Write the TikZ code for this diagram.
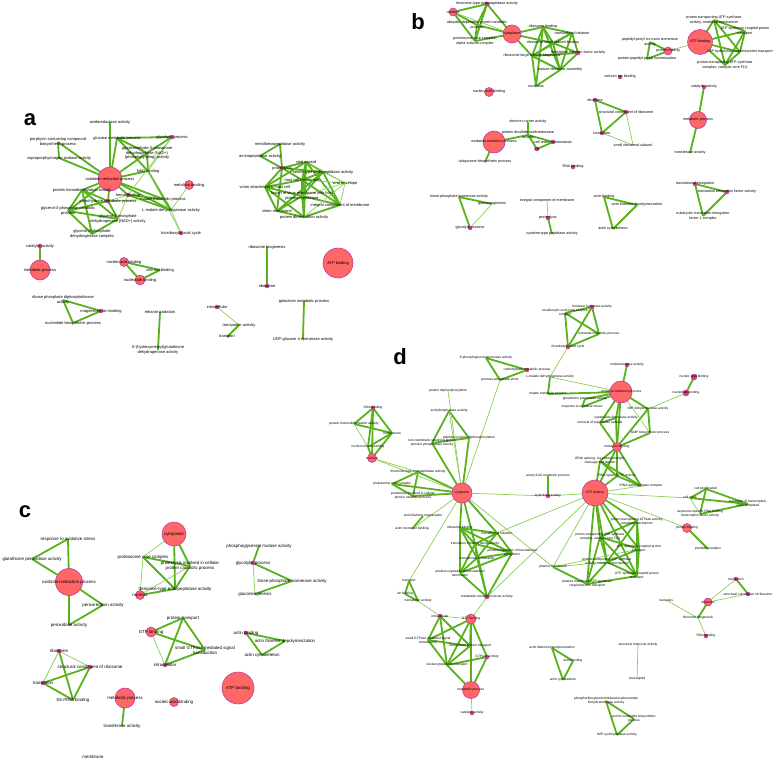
\documentclass[tikz,border=0pt]{standalone}
\usepackage{fontspec}
\setmainfont{Liberation Sans}
\usetikzlibrary{backgrounds}
\definecolor{eg}{RGB}{88,178,28}
\definecolor{egl}{RGB}{135,208,85}
\definecolor{nf}{RGB}{255,102,102}
\definecolor{nb}{RGB}{190,60,170}
\definecolor{sf}{RGB}{215,55,120}
\newcommand\NCirc[4]{\node[cn, minimum size=#3] (#1) at (#2) {}; \node[lbl] (#1t) at (#1) {#4};}
\newcommand\NDot[4][4]{\node[dn, minimum size=#1] (#2) at (#3) {}; \node[lbl] (#2t) at (#2) {#4};}
\newcommand\NTxt[3]{\node[lbl] (#1) at (#2) {#3};}
\newcommand\EThick[1]{\foreach \ea/\eb in {#1} \draw[eth] (\ea.center) -- (\eb.center);}
\newcommand\EThin[1]{\foreach \ea/\eb in {#1} \draw[etn] (\ea.center) -- (\eb.center);}
\begin{document}
\begin{tikzpicture}[x=1pt,y=-1pt,
 lbl/.style={inner sep=0pt, outer sep=0pt, align=center, text=black, font=\fontsize{4}{4.6}\selectfont},
 cn/.style={circle, fill=nf, draw=nb, line width=0.6pt, inner sep=0pt},
 dn/.style={circle, fill=sf, draw=nb, line width=0.4pt, inner sep=0pt},
 eth/.style={draw=eg, line width=1.8pt},
 etn/.style={draw=egl, line width=0.7pt},
 plabel/.style={font=\fontsize{22}{22}\selectfont\bfseries, inner sep=0pt}]
\path[use as bounding box] (0,0) rectangle (778,760);

\node[plabel] (pa) at (30,120) {a};
\node[plabel] (pb) at (418,22) {b};
\node[plabel] (pc) at (25,512) {c};
\node[plabel] (pd) at (400,357) {d};

% ---------------- panel a
\begin{scope}[lbl/.append style={font=\fontsize{4}{4.6}\selectfont}]
\NCirc{aox}{110,179}{24}{oxidation-reduction process}
\NTxt{aoxa}{110,122}{oxidoreductase activity}
\NTxt{aglc}{117,138}{glucose metabolic process}
\NDot{aglyc}{172,137}{glycolytic process}
\NTxt{agapdh}{147,153}{glyceraldehyde-3-phosphate\\dehydrogenase (NAD+)\\(phosphorylating) activity}
\NTxt{anad}{148,171}{NAD binding}
\NTxt{aporph}{58,142}{porphyrin-containing compound\\biosynthetic process}
\NTxt{acopro}{59,158}{coproporphyrinogen oxidase activity}
\NTxt{aprot}{82,190}{protein homodimerization activity}
\NDot{aheme}{128,195}{heme binding}
\NDot{acarb}{108,201}{carbohydrate metabolic process}
\NTxt{amal}{163,199}{malate metabolic process}
\NTxt{almdh}{171,210}{L-malate dehydrogenase activity}
\NTxt{ag3pc}{68,211}{glycerol-3-phosphate catabolic\\process}
\NTxt{ag3pd}{118,219}{glycerol-3-phosphate\\dehydrogenase [NAD+] activity}
\NTxt{ag3pdc}{92,234}{glycerol-3-phosphate\\dehydrogenase complex}
\NCirc{ametal}{189,185}{9}{metal ion binding}
\NDot{atca}{181,233}{tricarboxylic acid cycle}
\NDot{acat}{40,246}{catalytic activity}
\NCirc{ametab}{40,270}{20}{metabolic process}
\NCirc{anab}{124,262}{9}{nucleic acid binding}
\NTxt{azinc}{160,270}{zinc ion binding}
\NCirc{anuc}{140,280}{10}{nucleotide binding}
\NTxt{aribp}{63,300}{ribose phosphate diphosphokinase\\activity}
\NDot{amg}{101,311}{magnesium ion binding}
\NTxt{anbp}{73,323}{nucleotide biosynthetic process}
\NTxt{aeth}{160,312}{ethanol oxidation}
\NTxt{ashg}{158,350}{S-(hydroxymethyl)glutathione\\dehydrogenase activity}
\NDot{aintra}{217,307}{intracellular}
\NTxt{atrans}{239,325}{transporter activity}
\NTxt{atransp}{227,337}{transport}
\NTxt{agal}{304,301}{galactose metabolic process}
\NTxt{audp}{303,339}{UDP-glucose 4-epimerase activity}
\NTxt{aribbio}{267,247}{ribosome biogenesis}
\NDot{aribo}{267,286}{ribosome}
\NCirc{aatp}{338,263}{30}{ATP binding}
\NTxt{ametallo}{280,144}{metalloexopeptidase activity}
\NTxt{aamino}{260,156}{aminopeptidase activity}
\NDot{aprotl}{282,168}{proteolysis}
\NTxt{acapsid}{306,162}{viral capsid}
\NTxt{aserine}{323,172}{serine-type endopeptidase activity}
\NTxt{ahost}{302,180}{host cell membrane}
\NTxt{aenv}{345,183}{viral envelope}
\NTxt{avirion}{265,187}{virion attachment to host cell}
\NTxt{afusion}{302,196}{fusion of virus membrane with host\\plasma membrane}
\NTxt{aintmem}{340,205}{integral component of membrane}
\NTxt{avmem}{277,211}{virion membrane}
\NTxt{adimer}{304,217}{protein dimerization activity}
\end{scope}

% ---------------- panel b
\begin{scope}[lbl/.append style={font=\fontsize{3.7}{4.2}\selectfont}]
\NDot{bthr}{487,4}{threonine-type endopeptidase activity}
\NCirc{bnuc}{453,12}{8}{nucleus}
\NTxt{bubi}{477,25}{ubiquitin-dependent protein catabolic\\process}
\NTxt{bprot}{475,41}{proteasome core complex,\\alpha-subunit complex}
\NCirc{bcyt}{512,34}{18}{cytoplasm}
\NTxt{brb}{543,27}{ribosome binding}
\NTxt{bti}{572,33}{translational initiation}
\NTxt{brsb}{553,43}{ribosomal small subunit binding}
\NTxt{brlb}{532,56}{ribosomal large subunit biogenesis}
\NDot{btif}{578,53}{translation initiation factor activity}
\NTxt{bmra}{560,70}{mature ribosome assembly}
\NTxt{bnucl}{536,86}{nucleolus}
\NCirc{bnab}{489,92}{9}{nucleic acid binding}
\NDot{bcalc}{620,77}{calcium ion binding}
\NCirc{batp}{700,42}{25}{ATP binding}
\NTxt{bpta}{714,20}{proton-transporting ATP synthase\\activity, rotational mechanism}
\NTxt{bascp}{745,31}{ATP synthesis coupled proton\\transport}
\NTxt{bahcp}{740,52}{ATP hydrolysis coupled proton transport}
\NTxt{bptc}{725,65}{proton-transporting ATP synthase\\complex, catalytic core F(1)}
\NTxt{bppi}{650,42}{peptidyl-prolyl cis-trans isomerase\\activity}
\NCirc{bpf}{668,51}{8}{protein folding}
\NTxt{bppiso}{647,59}{protein peptidyl-prolyl isomerization}
\NDot{bcat}{704,87}{catalytic activity}
\NCirc{bmet}{698,120}{17}{metabolic process}
\NTxt{btrf}{690,153}{transferase activity}
\NDot{bribo}{595,100}{ribosome}
\NDot{bscr}{626,112}{structural constituent of ribosome}
\NDot{btransl}{602,133}{translation}
\NTxt{bsrs}{633,145}{small ribosomal subunit}
\NTxt{bect}{528,122}{electron carrier activity}
\NCirc{box}{494,142}{22}{oxidation-reduction process}
\NTxt{bpdi}{528,135}{protein disulfide oxidoreductase\\activity}
\NDot{bcrh}{553,142}{cell redox homeostasis}
\NDot{ber}{537,149}{ER}
\NTxt{bubiq}{485,162}{ubiquinone biosynthetic process}
\NDot{brna}{573,167}{RNA binding}
\NTxt{btpi}{459,197}{triose-phosphate isomerase activity}
\NTxt{bgluc}{492,204}{gluconeogenesis}
\NDot{bglyc}{470,228}{glycolytic process}
\NTxt{bicm}{547,201}{integral component of membrane}
\NDot{bprotl}{548,218}{proteolysis}
\NTxt{bcys}{552,234}{cysteine-type peptidase activity}
\NTxt{bab}{604,197}{actin binding}
\NTxt{bafd}{637,205}{actin filament depolymerization}
\NTxt{bac}{613,229}{actin cytoskeleton}
\NDot{bte}{695,184}{translational elongation}
\NDot{btef}{727,192}{translation elongation factor activity}
\NTxt{beef}{703,216}{eukaryotic translation elongation\\factor 1 complex}
\end{scope}

% ---------------- panel c
\begin{scope}[lbl/.append style={font=\fontsize{4.4}{5}\selectfont}]
\NTxt{cros}{68,539}{response to oxidative stress}
\NTxt{cgpx}{32,559}{glutathione peroxidase activity}
\NCirc{cox}{69,582}{27}{oxidation-reduction process}
\NTxt{cprx}{103,605}{peroxiredoxin activity}
\NTxt{cpod}{69,625}{peroxidase activity}
\NCirc{ccyt}{174,534}{24}{cytoplasm}
\NTxt{cpcc}{143,557}{proteasome core complex}
\NTxt{cpinv}{190,566}{proteolysis involved in cellular\\protein catabolic process}
\NTxt{cthr}{175,589}{threonine-type endopeptidase activity}
\NCirc{cnuc}{140,595}{9}{nucleus}
\NTxt{cpt}{183,618}{protein transport}
\NCirc{cgtp}{151,632}{10}{GTP binding}
\NTxt{csgt}{205,650}{small GTPase mediated signal\\transduction}
\NDot{cintra}{165,665}{intracellular}
\NDot{cribo}{59,651}{ribosome}
\NDot{cscr}{90,667}{structural constituent of ribosome}
\NDot{ctransl}{43,683}{translation}
\NTxt{c5s}{73,700}{5S rRNA binding}
\NCirc{cmet}{125,698}{20}{metabolic process}
\NTxt{ctrf}{122,726}{transferase activity}
\NCirc{cnab}{174,702}{9}{nucleic acid binding}
\NTxt{cmem}{93,757}{membrane}
\NTxt{cpgm}{259,546}{phosphoglycerate mutase activity}
\NDot{cglyc}{253,563}{glycolytic process}
\NTxt{ctpi}{292,581}{triose-phosphate isomerase activity}
\NTxt{cgluc}{255,594}{gluconeogenesis}
\NDot{cab}{246,633}{actin binding}
\NTxt{cafd}{285,641}{actin filament depolymerization}
\NTxt{cac}{262,655}{actin cytoskeleton}
\NCirc{catp}{238,688}{32}{ATP binding}
\end{scope}

% ---------------- panel d
\begin{scope}[lbl/.append style={font=\fontsize{3.3}{3.8}\selectfont}]
\NDot{dfha}{592,307}{fumarate hydratase activity}
\NTxt{dtcec}{565,313}{tricarboxylic acid cycle enzyme\\complex}
\NTxt{dfmp}{599,334}{fumarate metabolic process}
\NDot{dtca}{568,347}{tricarboxylic acid cycle}
\NTxt{d6pg}{486,358}{6-phosphogluconolactonase activity}
\NDot{dcarb}{527,370}{carbohydrate metabolic process}
\NTxt{dpps}{500,380}{pentose-phosphate shunt}
\NTxt{dlmdh}{550,377}{L-malate dehydrogenase activity}
\NDot{doxa}{627,365}{oxidoreductase activity}
\NCirc{dox}{621,392}{22}{oxidation-reduction process}
\NDot[6]{dnab}{694,377}{nucleic acid binding}
\NDot[6]{dnucb}{686,393}{nucleotide binding}
\NTxt{dmm}{548,394}{malate metabolic process}
\NTxt{dgpx}{585,399}{glutathione peroxidase activity}
\NTxt{dros}{582,407}{response to oxidative stress}
\NTxt{dimp}{648,409}{IMP dehydrogenase activity}
\NTxt{dsod}{616,418}{superoxide dismutase activity}
\NTxt{dremov}{600,423}{removal of superoxide radicals}
\NTxt{dgmp}{650,433}{GMP biosynthetic process}
\NCirc{dmetal}{617,447}{9}{metal ion binding}
\NTxt{dtrna}{600,461}{tRNA splicing, via endonucleolytic\\cleavage and ligation}
\NTxt{drla}{617,476}{RNA ligase (ATP) activity}
\NTxt{dtslc}{641,486}{tRNA-splicing ligase complex}
\NCirc{datp}{595,493}{26}{ATP binding}
\NTxt{dcp}{706,489}{cell proliferation}
\NTxt{dcc}{690,498}{cell cycle}
\NTxt{drt}{748,504}{regulation of transcription,\\DNA-templated}
\NTxt{dssd}{700,514}{sequence-specific DNA binding\\transcription factor activity}
\NCirc{dpb}{687,528}{9}{protein binding}
\NTxt{dpfc}{708,549}{prefoldin complex}
\NTxt{dpta}{637,521}{proton-transporting ATPase activity,\\rotational mechanism}
\NTxt{dptc}{600,537}{proton-transporting ATP synthase\\complex, catalytic core F(1)}
\NTxt{dahcp}{639,549}{ATP hydrolysis coupled proton\\transport}
\NTxt{dptsa}{607,562}{proton-transporting ATP synthase\\activity, rotational mechanism}
\NTxt{dascp}{637,576}{ATP synthesis coupled proton\\transport}
\NTxt{dpmsp}{587,584}{plasma membrane ATP synthesis\\coupled proton transport}
\NTxt{dpm}{553,567}{plasma membrane}
\NCirc{dcyt}{462,493}{20}{cytoplasm}
\NDot{dhyd}{548,496}{hydrolase activity}
\NTxt{dacoa}{548,476}{acetyl-CoA metabolic process}
\NTxt{ddephos}{448,391}{protein dephosphorylation}
\NTxt{dacid}{449,411}{acid phosphatase activity}
\NTxt{dnmsp}{432,443}{non-membrane spanning protein\\tyrosine phosphatase activity}
\NTxt{dpytd}{469,438}{peptidyl-tyrosine dephosphorylation}
\NDot{ddna}{373,408}{DNA binding}
\NTxt{dphd}{354,424}{protein heterodimerization activity}
\NTxt{dnsm}{392,433}{nucleosome}
\NTxt{dnsa}{368,447}{nucleosome assembly}
\NCirc{dnuc}{372,458}{9}{nucleus}
\NTxt{dthr}{418,472}{threonine-type endopeptidase activity}
\NTxt{dpcc}{392,484}{proteasome core complex}
\NTxt{dpinv}{413,496}{proteolysis involved in cellular\\protein catabolic process}
\NTxt{dafo}{423,516}{actin filament organization}
\NTxt{damb}{412,529}{actin monomer binding}
\NTxt{drb}{460,528}{ribosome binding}
\NTxt{dti}{497,533}{translational initiation}
\NTxt{dtif}{475,544}{translation initiation factor activity}
\NTxt{dprte}{512,553}{positive regulation of translational\\elongation}
\NTxt{dtt}{477,558}{translational termination}
\NTxt{dprtt}{460,573}{positive regulation of translational\\termination}
\NDot{dtef}{487,597}{translation elongation factor activity}
\NTxt{dtransp}{409,581}{transport}
\NTxt{dion}{405,594}{ion binding}
\NTxt{dtra}{418,601}{transporter activity}
\NDot{dintra}{440,616}{intracellular}
\NCirc{dgtp}{471,619}{10}{GTP binding}
\NTxt{dsgt}{428,640}{small GTPase mediated signal\\transduction}
\NTxt{dipt}{470,646}{intracellular protein transport}
\NDot{dgtpase}{487,657}{GTPase activity}
\NTxt{dnct}{447,665}{nucleocytoplasmic transport}
\NCirc{dmet}{471,690}{17}{metabolic process}
\NDot{dcat}{472,713}{catalytic activity}
\NDot{dtransl}{736,579}{translation}
\NDot{dscr}{748,594}{structural constituent of ribosome}
\NCirc{dribo}{708,602}{8}{ribosome}
\NTxt{dnucl}{666,600}{nucleolus}
\NTxt{drbg}{698,618}{ribosome biogenesis}
\NDot{drna}{706,636}{RNA binding}
\NTxt{dafd}{552,648}{actin filament depolymerization}
\NTxt{dab}{573,661}{actin binding}
\NTxt{dac}{563,680}{actin cytoskeleton}
\NTxt{dsma}{638,645}{structural molecule activity}
\NTxt{dvc}{637,679}{viral capsid}
\NTxt{dprf}{606,701}{phosphoribosylaminoimidazolecarboxamide\\formyltransferase activity}
\NTxt{dpnb}{634,719}{purine nucleotide biosynthetic\\process}
\NTxt{dimpc}{617,735}{IMP cyclohydrolase activity}
\end{scope}

% ---------------- edges
\begin{scope}[on background layer]
% a
\EThick{aporph/acopro, aporph/aox, acopro/aox, aox/aoxa, aox/aglc, aglc/aglyc, aglc/agapdh, aglyc/agapdh, agapdh/anad, aox/agapdh, aox/anad, aglc/anad, aox/aheme, aox/amal, aox/almdh, aheme/amal, aheme/almdh, amal/almdh, aox/aprot, aox/acarb, aprot/acarb, aprot/ag3pc, acarb/ag3pc, ag3pc/ag3pd, ag3pc/ag3pdc, ag3pd/ag3pdc, aprot/ag3pdc, acarb/ag3pd, aprot/ag3pd, aox/ag3pc, anad/almdh}
\EThin{aglyc/anad, aglyc/aheme, acarb/aheme, acarb/amal, ametal/almdh, almdh/atca, amal/atca, aheme/ag3pd, anad/amal}
\EThick{acat/ametab, anab/azinc, anab/anuc, azinc/anuc, aribp/amg, aribp/anbp, anbp/amg, aeth/ashg, atrans/atransp, agal/audp, aribbio/aribo}
\EThin{aintra/atrans}
\EThick{ametallo/aamino, ametallo/aprotl, aamino/aprotl, aprotl/acapsid, aprotl/aserine, aprotl/avirion, aprotl/ahost, aprotl/avmem, acapsid/aserine, acapsid/ahost, acapsid/avirion, acapsid/afusion, acapsid/adimer, aserine/ahost, aserine/afusion, aserine/aintmem, ahost/avirion, ahost/afusion, ahost/aintmem, ahost/adimer, avirion/afusion, avirion/avmem, avirion/adimer, afusion/aintmem, afusion/avmem, afusion/adimer, aintmem/adimer, avmem/adimer, acapsid/aintmem, aserine/avmem}
\EThin{aenv/acapsid, aenv/aserine, aenv/ahost, aenv/afusion, aenv/aintmem, aenv/adimer}
% b
\EThick{bnuc/bthr, bnuc/bubi, bnuc/bprot, bthr/bubi, bthr/bprot, bubi/bprot, bthr/bcyt, bprot/bcyt, bubi/bcyt, bcyt/brb, bcyt/brsb, bcyt/brlb, brb/bti, brb/brsb, brb/brlb, brb/bmra, brb/bnucl, bti/btif, bti/brsb, bti/bmra, brsb/brlb, brsb/btif, brsb/bmra, brlb/btif, brlb/bmra, brlb/bnucl, btif/bmra, bmra/bnucl, bti/brlb}
\EThin{bnuc/bcyt, bpf/batp}
\EThick{batp/bpta, batp/bascp, batp/bahcp, batp/bptc, bpta/bascp, bpta/bahcp, bpta/bptc, bascp/bahcp, bascp/bptc, bahcp/bptc}
\EThick{bppi/bpf, bppi/bppiso, bpf/bppiso, bcat/bmet, bmet/btrf, bribo/bscr, bribo/btransl, bscr/btransl}
\EThin{bscr/bsrs, btransl/bsrs}
\EThick{box/bpdi, bect/bpdi, bpdi/bcrh, bpdi/ber, ber/bcrh, box/bubiq, btpi/bglyc, btpi/bgluc, bprotl/bcys, bab/bafd, bab/bac, bafd/bac, bte/btef, bte/beef, btef/beef}
\EThin{bgluc/bglyc, bicm/bprotl}
% c
\EThick{cros/cgpx, cros/cox, cgpx/cox, cox/cprx, cox/cpod, cprx/cpod, ccyt/cpinv, ccyt/cthr, cpcc/cpinv, cpcc/cthr, cpinv/cthr, cthr/cnuc, cgtp/cpt, cgtp/csgt, cpt/csgt, cpt/cintra, cintra/csgt, cribo/c5s, cscr/ctransl, cscr/c5s, ctransl/c5s, cmet/ctrf, cpgm/cglyc, cglyc/ctpi, cgluc/ctpi, cab/cafd, cab/cac, cafd/cac}
\EThin{ccyt/cpcc, cpcc/cnuc, cpinv/cnuc, cgtp/cintra, cribo/cscr, cribo/ctransl, cglyc/cgluc}
% d
\EThick{dfha/dtcec, dfha/dfmp, dfha/dtca, dtcec/dfmp, dtcec/dtca, dfmp/dtca, d6pg/dcarb, d6pg/dpps, dcarb/dpps, dlmdh/dmm, doxa/dox, dnab/dnucb, dox/dmm, dox/dgpx, dox/dros, dgpx/dros, dox/dimp, dox/dsod, dox/dremov, dsod/dremov, dox/dmetal, dimp/dgmp, dgmp/dmetal, dsod/dmetal, dremov/dmetal, dimp/dmetal, dmetal/dtrna, dmetal/drla, dmetal/dtslc, dtrna/drla, dtrna/dtslc, drla/dtslc, datp/dmetal, datp/dtrna, datp/drla, dcp/dcc, dcp/drt, dcc/drt, dcp/dssd, dssd/drt, dpb/dpfc}
\EThick{datp/dpta, datp/dptc, datp/dahcp, datp/dptsa, datp/dascp, datp/dpmsp, dpta/dptc, dpta/dahcp, dpta/dptsa, dpta/dascp, dptc/dahcp, dptc/dptsa, dptc/dascp, dptc/dpmsp, dahcp/dptsa, dahcp/dascp, dptsa/dascp, dptsa/dpmsp, dascp/dpmsp, dpm/dpmsp, dacoa/dhyd}
\EThick{dacid/dnmsp, dacid/dpytd, dnmsp/dpytd, dnmsp/dcyt, dpytd/dcyt, ddna/dphd, ddna/dnsm, ddna/dnsa, ddna/dnuc, dphd/dnsm, dnsm/dnsa, dnsa/dnuc, dnsm/dnuc, dthr/dcyt, dpinv/dcyt, dpcc/dcyt, dthr/dpcc, dthr/dpinv, dpcc/dpinv, dafo/damb}
\EThick{dcyt/drb, drb/dti, drb/dtif, drb/dprte, drb/dtt, drb/dprtt, dti/dtif, dti/dprte, dti/dtt, dtif/dprte, dtif/dtt, dtif/dprtt, dprte/dtt, dprte/dprtt, dprte/dtef, dtt/dprtt, dtt/dtef, dprtt/dtef, dtif/dtef, dcyt/dtif, dcyt/dti}
\EThick{dtransp/dtra, dtransp/dion, dion/dtra, dintra/dsgt, dintra/dipt, dintra/dnct, dgtp/dsgt, dgtp/dipt, dgtp/dgtpase, dgtp/dnct, dgtp/dmet, dsgt/dnct, dipt/dnct, dgtpase/dnct, dgtpase/dmet, dnct/dmet, dsgt/dipt, dtransl/dscr, dribo/drbg, dafd/dab, dafd/dac, dab/dac, dprf/dpnb, dprf/dimpc, dpnb/dimpc}
\EThin{dtca/dlmdh, dlmdh/dox, dpps/dcyt, dnucb/dimp, dox/dgmp, datp/dcc, dcc/dssd, datp/dpb, datp/dpm, datp/dtslc, dpm/dptsa, dpm/dahcp, dpm/dcyt, dcyt/dhyd, dhyd/datp, ddephos/dcyt, dacid/dcyt, dphd/dnsa, dnuc/dthr, dnuc/dcyt, dcyt/damb, dcyt/dtransp, dtra/dintra, dintra/dgtp, dmet/dcat, dgtp/dtef, dtransl/dribo, dribo/dscr, dnucl/drbg, drbg/drna, dsma/dvc, datp/dti, datp/dtef}
\end{scope}
\end{tikzpicture}
\end{document}
